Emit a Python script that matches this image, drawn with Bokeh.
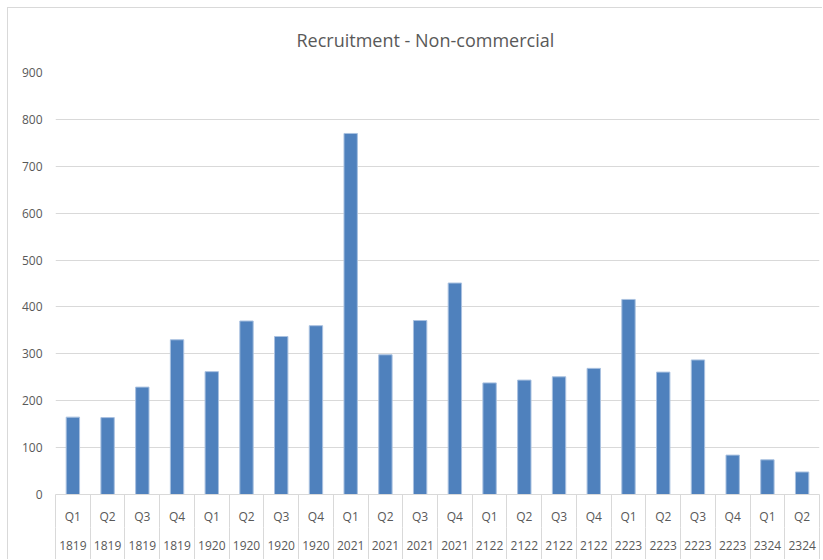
from bokeh.plotting import figure
from bokeh.models import Range1d, LinearAxis, FixedTicker, ColumnDataSource
from bokeh.embed import file_html
from bokeh.resources import INLINE

title_text = "Recruitment - Non-commercial"
quarters = ["Q1", "Q2", "Q3", "Q4", "Q1", "Q2", "Q3", "Q4", "Q1", "Q2", "Q3",
            "Q4", "Q1", "Q2", "Q3", "Q4", "Q1", "Q2", "Q3", "Q4", "Q1", "Q2"]
years = ["1819", "1819", "1819", "1819", "1920", "1920", "1920", "1920",
         "2021", "2021", "2021", "2021", "2122", "2122", "2122", "2122",
         "2223", "2223", "2223", "2223", "2324", "2324"]
values = [165, 164, 229, 330, 262, 370, 337, 360, 770, 298, 371, 451,
          238, 244, 251, 269, 416, 261, 287, 84, 74, 48]
y_ticks = [0, 100, 200, 300, 400, 500, 600, 700, 800, 900]

FONT = "Open Sans"
GRAY = "#595959"
LINE = "#d9d9d9"

n = len(values)
centers = [i + 0.5 for i in range(n)]
bounds = list(range(n + 1))
source = ColumnDataSource(data=dict(x=centers, top=values))

p = figure(x_range=Range1d(0, n), y_range=Range1d(0, 900),
           width=815, height=552, output_backend="svg", toolbar_location=None,
           x_axis_type=None, title=title_text,
           min_border_left=47, min_border_right=4, min_border_top=64,
           min_border_bottom=66)
p.styles = {"margin-left": "7px", "margin-top": "7px",
            "border-left": "1px solid #d9d9d9", "border-top": "1px solid #d9d9d9"}

p.title.align = "left"
p.title.offset = 241
p.title.vertical_align = "top"
p.title.text_font = FONT
p.title.text_font_size = "18px"
p.title.text_font_style = "normal"
p.title.text_color = GRAY
p.title.standoff = 37

p.vbar(x="x", top="top", width=0.385, source=source,
       fill_color="#4f81bd", line_color="#a9c1e0", line_width=1)

p.outline_line_color = None
p.xgrid.grid_line_color = None
p.ygrid.grid_line_color = LINE
p.ygrid.ticker = FixedTicker(ticks=y_ticks)

p.yaxis.ticker = FixedTicker(ticks=y_ticks)
p.yaxis.axis_line_color = None
p.yaxis.major_tick_line_color = None
p.yaxis.major_tick_out = 0
p.yaxis.major_tick_in = 0
p.yaxis.minor_tick_line_color = None
p.yaxis.minor_tick_out = 0
p.yaxis.major_label_text_font = FONT
p.yaxis.major_label_text_font_size = "12px"
p.yaxis.major_label_text_color = GRAY
p.yaxis.major_label_standoff = 13


def make_axis(labels, standoff, tick_len, line_color):
    ax = LinearAxis(ticker=FixedTicker(ticks=centers, minor_ticks=bounds))
    ax.major_label_overrides = {c: lab for c, lab in zip(centers, labels)}
    ax.major_tick_line_color = None
    ax.major_tick_out = 0
    ax.major_tick_in = 0
    ax.minor_tick_line_color = LINE
    ax.minor_tick_out = tick_len
    ax.minor_tick_in = 0
    ax.axis_line_color = line_color
    ax.major_label_standoff = standoff
    ax.major_label_text_font = FONT
    ax.major_label_text_font_size = "12px"
    ax.major_label_text_color = GRAY
    return ax


p.add_layout(make_axis(quarters, -20, 33, LINE), "below")
p.add_layout(make_axis(years, -24, 37, None), "below")

open("out.html", "w").write(file_html(p, INLINE))
